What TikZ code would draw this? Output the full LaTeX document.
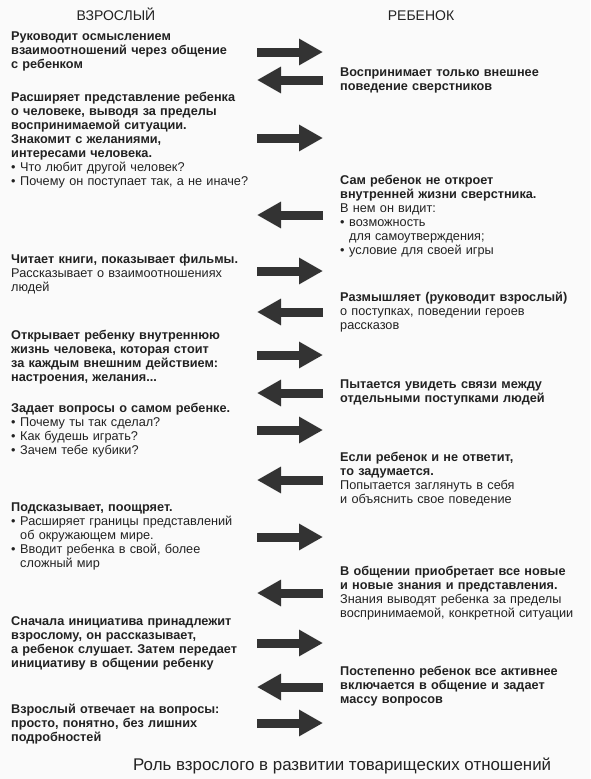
\documentclass[tikz,border=0pt]{standalone}
\usepackage{fontspec}
\setmainfont{Liberation Sans}
\usepackage{xcolor}
\usetikzlibrary{arrows.meta}
\frenchspacing

\definecolor{arrowgray}{HTML}{333333}
\definecolor{ink}{HTML}{222222}
\definecolor{paper}{HTML}{FAFAFA}

\newcommand{\bl}{\makebox[9pt][l]{•}}
\newcommand{\ind}{\hspace*{9pt}}

\tikzset{
  txt/.style={anchor=base west, inner sep=0pt, text width=270pt, align=left,
    font=\fontsize{12.7}{14}\selectfont, text=ink},
  head/.style={anchor=base, inner sep=0pt, font=\fontsize{14}{16}\selectfont, text=ink},
  bigarrow/.style={draw=arrowgray, line width=9pt, -{Triangle[length=24pt,width=25pt]}}
}

\begin{document}
\begin{tikzpicture}[x=1pt,y=-1pt]
	\useasboundingbox (0,0) rectangle (590,779);
	\fill[paper] (0,0) rectangle (590,779);

	% column heads
	\node[head] (adult) at (116,20) {ВЗРОСЛЫЙ};
	\node[head] (child) at (421,20) {РЕБЕНОК};

	% adult side
	\node[txt] (a1) at (11,40) {\textbf{Руководит осмыслением\\взаимоотношений через общение\\с ребенком}};
	\node[txt] (a2) at (11,101) {\textbf{Расширяет представление ребенка\\о человеке, выводя за пределы\\воспринимаемой ситуации.\\Знакомит с желаниями,\\интересами человека.}\\
		\bl Что любит другой человек?\\\bl Почему он поступает так, а не иначе?};
	\node[txt] (a3) at (11,263) {\textbf{Читает книги, показывает фильмы.}\\Рассказывает о взаимоотношениях\\людей};
	\node[txt] (a4) at (11,339) {\textbf{Открывает ребенку внутреннюю\\жизнь человека, которая стоит\\за каждым внешним действием:\\настроения, желания...}};
	\node[txt] (a5) at (11,412) {\textbf{Задает вопросы о самом ребенке.}\\\bl Почему ты так сделал?\\\bl Как будешь играть?\\\bl Зачем тебе кубики?};
	\node[txt] (a6) at (11,511) {\textbf{Подсказывает, поощряет.}\\\bl Расширяет границы представлений\\\ind об окружающем мире.\\\bl Вводит ребенка в свой, более\\\ind сложный мир};
	\node[txt] (a7) at (11,625) {\textbf{Сначала инициатива принадлежит\\взрослому, он рассказывает,\\а ребенок слушает. Затем передает\\инициативу в общении ребенку}};
	\node[txt] (a8) at (11,713) {\textbf{Взрослый отвечает на вопросы:\\просто, понятно, без лишних\\подробностей}};

	% child side
	\node[txt] (c1) at (340,76) {\textbf{Воспринимает только внешнее\\поведение сверстников}};
	\node[txt] (c2) at (340,184) {\textbf{Сам ребенок не откроет\\внутренней жизни сверстника.}\\В нем он видит:\\\bl возможность\\\ind для самоутверждения;\\\bl условие для своей игры};
	\node[txt] (c3) at (340,301) {\textbf{Размышляет (руководит взрослый)}\\о поступках, поведении героев\\рассказов};
	\node[txt] (c4) at (340,388) {\textbf{Пытается увидеть связи между\\отдельными поступками людей}};
	\node[txt] (c5) at (340,461) {\textbf{Если ребенок и не ответит,\\то задумается.}\\Попытается заглянуть в себя\\и объяснить свое поведение};
	\node[txt] (c6) at (340,575) {\textbf{В общении приобретает все новые\\и новые знания и представления.}\\Знания выводят ребенка за пределы\\воспринимаемой, конкретной ситуации};
	\node[txt] (c7) at (340,675) {\textbf{Постепенно ребенок все активнее\\включается в общение и задает\\массу вопросов}};

	% arrows, odd ones point to the child
	\foreach \y [count=\i] in {52,80,138,215,271,312,355,393,430,480,537,593,643,687,723}{
		\coordinate (w\i) at (257,\y);
		\coordinate (e\i) at (323,\y);
		\ifodd\i \draw[bigarrow] (w\i) -- (e\i); \else \draw[bigarrow] (e\i) -- (w\i); \fi
	}

	\node[anchor=base west, inner sep=0pt, font=\fontsize{16.9}{18}\selectfont, text=ink] (cap) at (133,770) {Роль взрослого в развитии товарищеских отношений};
\end{tikzpicture}
\end{document}
